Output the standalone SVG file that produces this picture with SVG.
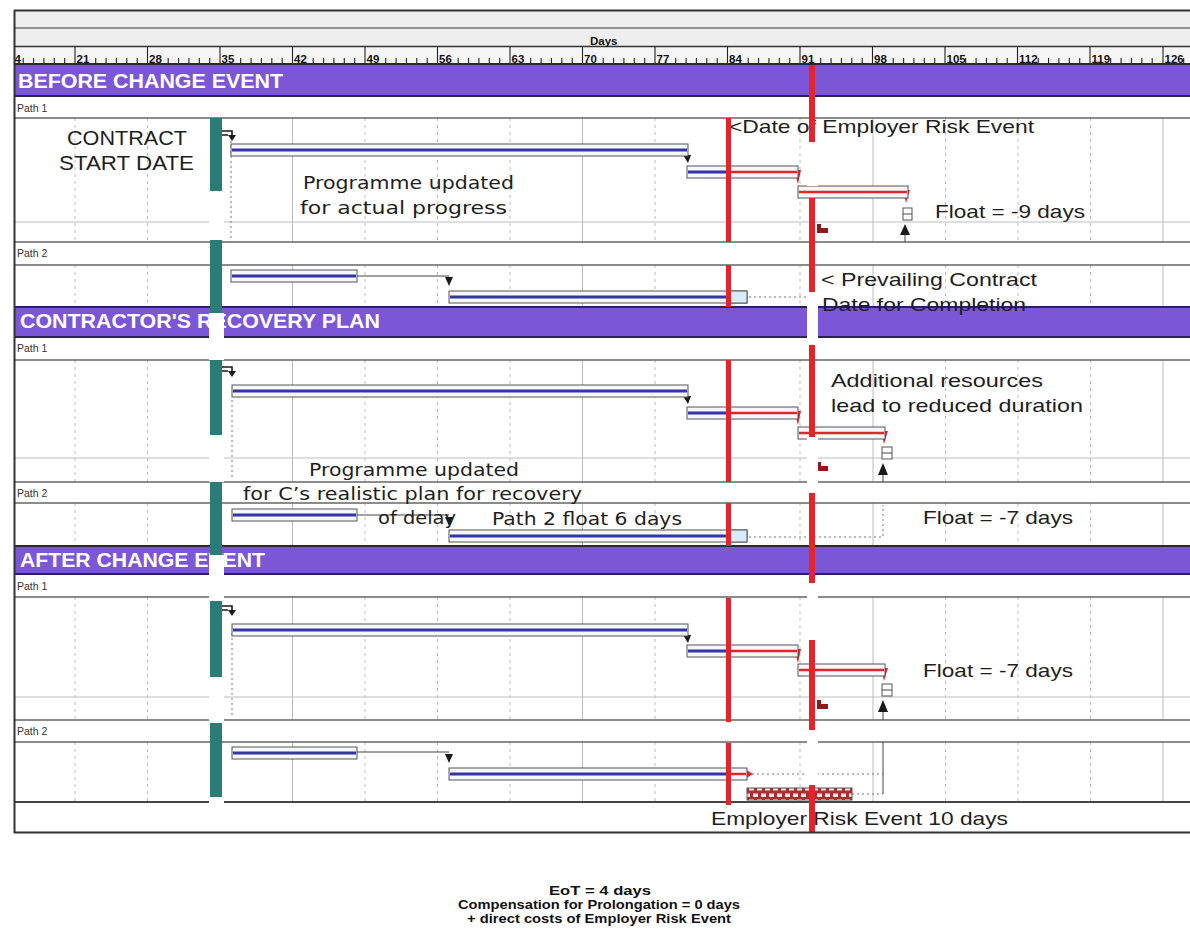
<svg xmlns="http://www.w3.org/2000/svg" xmlns:xlink="http://www.w3.org/1999/xlink" width="1190" height="932" viewBox="0 0 1190 932">
<style>
  .hdr{fill:#eeeeee}
  .scale-bg{fill:#f5f5f5}
  .hline{stroke:#333;fill:none}
  .scale-lbl{font-family:"Liberation Sans",Arial,sans-serif;font-size:11.5px;font-weight:bold;fill:#111}
  .tick{stroke:#222;stroke-width:1.1;fill:none}
  .band{fill:#7b57d8}
  .band-edge{stroke:#2a2350;stroke-width:2}
  .band-txt{font-family:"Liberation Sans",Arial,sans-serif;font-weight:bold;font-size:21px;fill:#ffffff}
  .path-lbl{font-family:"Liberation Sans",Arial,sans-serif;font-size:10.5px;fill:#333}
  .row{stroke:#666;stroke-width:1.3}
  .row-thick{stroke:#444;stroke-width:2}
  .subrow{stroke:#bdbdbd;stroke-width:1}
  .grid-d{stroke:#bcbcbc;stroke-width:1;stroke-dasharray:3 4;fill:none}
  .grid-s{stroke:#bcbcbc;stroke-width:1;fill:none}
  .bar{fill:#f6f7fd;stroke:#555;stroke-width:1}
  .bar-end{fill:#d7ecf6;stroke:#555;stroke-width:1}
  .prog{stroke:#3434a6;stroke-width:3}
  .crit{stroke:#e0262b;stroke-width:2.5}
  .link{stroke:#444;stroke-width:1;fill:none}
  .dot{stroke:#777;stroke-width:1;stroke-dasharray:2 3;fill:none}
  .arr{fill:#1a1a1a}
  .arr-red{fill:#e0262b}
  .ms{fill:#8e1b1b}
  .fbox{fill:#fff;stroke:#555;stroke-width:1}
  .note{font-family:"DejaVu Sans",Verdana,sans-serif;font-size:18px;fill:#1e1e1e}
  .note2{font-family:"Liberation Sans",Arial,sans-serif;font-size:19px;fill:#1e1e1e}
  .big{font-family:"Liberation Sans",Arial,sans-serif;font-size:21px;fill:#1e1e1e}
  .teal{fill:#2b7c77}
  .red{fill:#e3242b}
  .strip{fill:#ffffff}
  .foot{font-family:"Liberation Sans",Arial,sans-serif;font-weight:bold;font-size:13px;fill:#111}
</style>
<defs>
  <clipPath id="chartClip"><rect x="15" y="0" width="1175" height="932"/></clipPath>
  <!-- one week of the time scale: major tick + five day ticks -->
  <path id="wk" class="tick" d="M0 46V64M20.7 58V64M31.1 58V64M41.4 58V64M51.8 58V64M62.2 58V64"/>
  <!-- vertical grid column through the task areas -->
  <path id="gcol" d="M0 118V242M0 265V307M0 360V482M0 503V546M0 597V720M0 742V802"/>
  <!-- start link glyph from the contract start milestone -->
  <g id="startArrow">
    <path d="M0 1H10V7M0 5H6" stroke="#1a1a1a" stroke-width="1.6" fill="none"/>
    <polygon points="6,5 14,5 10,11" fill="#1a1a1a"/>
  </g>
  <!-- small dark red milestone mark -->
  <path id="msMark" class="ms" d="M0 0h4v4h7v5h-11z"/>
  <!-- brick pattern of the risk event bar -->
  <pattern id="hatch" width="8" height="12" patternUnits="userSpaceOnUse">
    <rect width="8" height="12" fill="#a83030"/>
    <rect x="1" y="1.5" width="5" height="3.5" fill="#f4e4e4"/>
    <rect x="5" y="7" width="5" height="3.5" fill="#f4e4e4"/>
    <rect x="-3" y="7" width="5" height="3.5" fill="#f4e4e4"/>
  </pattern>
</defs>

<rect width="1190" height="932" fill="#ffffff"/>

<!-- header and time scale -->
<g id="timescale">
  <rect class="hdr" x="14" y="10" width="1176" height="36"/>
  <rect class="scale-bg" x="14" y="46" width="1176" height="18"/>
  <path class="hline" stroke-width="2" d="M14 10.5H1190"/>
  <path class="hline" stroke-width="1" d="M14 28H1190"/>
  <path class="hline" stroke-width="1.5" d="M14 46.5H1190"/>
  <text class="scale-lbl" x="590" y="44.5" font-size="11">Days</text>
  <g clip-path="url(#chartClip)">
    <use xlink:href="#wk" x="2.5"/><use xlink:href="#wk" x="75"/><use xlink:href="#wk" x="147.5"/>
    <use xlink:href="#wk" x="220"/><use xlink:href="#wk" x="292.5"/><use xlink:href="#wk" x="365"/>
    <use xlink:href="#wk" x="437.5"/><use xlink:href="#wk" x="510"/><use xlink:href="#wk" x="582.5"/>
    <use xlink:href="#wk" x="655"/><use xlink:href="#wk" x="727.5"/><use xlink:href="#wk" x="800"/>
    <use xlink:href="#wk" x="872.5"/><use xlink:href="#wk" x="945"/><use xlink:href="#wk" x="1017.5"/>
    <use xlink:href="#wk" x="1090"/><use xlink:href="#wk" x="1163"/>
    <text class="scale-lbl" x="8" y="62.5">14</text>
    <text class="scale-lbl" x="76.5" y="62.5">21</text>
    <text class="scale-lbl" x="149" y="62.5">28</text>
    <text class="scale-lbl" x="221.5" y="62.5">35</text>
    <text class="scale-lbl" x="294" y="62.5">42</text>
    <text class="scale-lbl" x="366.5" y="62.5">49</text>
    <text class="scale-lbl" x="439" y="62.5">56</text>
    <text class="scale-lbl" x="511.5" y="62.5">63</text>
    <text class="scale-lbl" x="584" y="62.5">70</text>
    <text class="scale-lbl" x="656.5" y="62.5">77</text>
    <text class="scale-lbl" x="729" y="62.5">84</text>
    <text class="scale-lbl" x="801.5" y="62.5">91</text>
    <text class="scale-lbl" x="874" y="62.5">98</text>
    <text class="scale-lbl" x="946.5" y="62.5">105</text>
    <text class="scale-lbl" x="1019" y="62.5">112</text>
    <text class="scale-lbl" x="1091.5" y="62.5">119</text>
    <text class="scale-lbl" x="1164.5" y="62.5">126</text>
  </g>
</g>

<!-- grid -->
<g id="grid">
  <g class="grid-d">
    <use xlink:href="#gcol" x="75"/><use xlink:href="#gcol" x="147.5"/><use xlink:href="#gcol" x="220"/>
    <use xlink:href="#gcol" x="365"/><use xlink:href="#gcol" x="437.5"/><use xlink:href="#gcol" x="510"/>
    <use xlink:href="#gcol" x="655"/><use xlink:href="#gcol" x="727.5"/><use xlink:href="#gcol" x="800"/>
    <use xlink:href="#gcol" x="945.5"/><use xlink:href="#gcol" x="1018"/><use xlink:href="#gcol" x="1090.5"/>
  </g>
  <g class="grid-s">
    <use xlink:href="#gcol" x="292.5"/><use xlink:href="#gcol" x="582.5"/>
    <use xlink:href="#gcol" x="873"/><use xlink:href="#gcol" x="1163"/>
  </g>
</g>

<!-- row rules -->
<g id="rows">
  <path class="subrow" d="M14 222H1190M14 458H1190M14 697H1190"/>
  <path class="row" d="M14 118H1190M14 242H1190M14 265H1190M14 360H1190M14 482H1190M14 503H1190M14 597H1190M14 720H1190M14 742H1190"/>
  <path class="row-thick" d="M14 802H1190"/>
</g>

<!-- section bands -->
<g id="band-before">
  <rect class="band" x="14" y="64" width="1176" height="32"/>
  <path class="band-edge" d="M14 64H1190M14 96H1190"/>
  <text class="band-txt" x="18" y="88" textLength="265" lengthAdjust="spacingAndGlyphs">BEFORE CHANGE EVENT</text>
</g>
<g id="band-recovery">
  <rect class="band" x="14" y="307" width="1176" height="30"/>
  <path class="band-edge" d="M14 307H1190M14 337H1190"/>
  <text class="band-txt" x="20" y="328" textLength="360" lengthAdjust="spacingAndGlyphs">CONTRACTOR'S RECOVERY PLAN</text>
</g>
<g id="band-after">
  <rect class="band" x="14" y="546" width="1176" height="28"/>
  <path class="band-edge" d="M14 546H1190M14 574H1190"/>
  <text class="band-txt" x="20" y="567" textLength="245" lengthAdjust="spacingAndGlyphs">AFTER CHANGE EVENT</text>
</g>

<!-- path labels -->
<g id="path-labels" class="path-lbl">
  <text x="17" y="112">Path 1</text>
  <text x="17" y="257">Path 2</text>
  <text x="17" y="352">Path 1</text>
  <text x="17" y="497">Path 2</text>
  <text x="17" y="590">Path 1</text>
  <text x="17" y="735">Path 2</text>
</g>

<!-- connectors between activities -->
<g id="connectors">
  <!-- section 1 -->
  <path class="dot" d="M231 141V242"/>
  <path class="link" d="M357 276H449"/>
  <path class="dot" d="M749 297H808"/>
  <path class="link" d="M905 235V242"/>
  <!-- section 2 -->
  <path class="dot" d="M232 400V478"/>
  <path class="link" d="M357 515H449"/>
  <path class="dot" d="M749 537H883V505"/>
  <path class="link" d="M883 474V482"/>
  <!-- section 3 -->
  <path class="dot" d="M232 633V718"/>
  <path class="link" d="M357 752H449"/>
  <path class="dot" d="M752 774H883M852 794H883"/>
  <path class="link" d="M883 742V794M883 712V720"/>
  <!-- link arrowheads -->
  <polygon class="arr" points="683,155 691,155 688,163"/>
  <polygon class="arr" points="683,396 691,396 688,404"/>
  <polygon class="arr" points="683,635 691,635 688,643"/>
  <polygon class="arr" points="445,277 453,277 449,286"/>
  <polygon class="arr" points="445,517 453,517 449,526"/>
  <polygon class="arr" points="445,754 453,754 449,763"/>
  <polygon class="arr-red" points="794,170 801,170 798,184"/>
  <polygon class="arr-red" points="794,411 801,411 798,425"/>
  <polygon class="arr-red" points="794,649 801,649 798,663"/>
  <polygon class="arr-red" points="903,190 910,190 906,203"/>
  <polygon class="arr-red" points="881,431 888,431 884,444"/>
  <polygon class="arr-red" points="881,668 888,668 884,681"/>
  <polygon class="arr-red" points="745,769 753,774 745,779"/>
  <!-- float arrows -->
  <polygon class="arr" points="900,235 910,235 905,224"/>
  <polygon class="arr" points="878,475 888,475 883,463"/>
  <polygon class="arr" points="878,712 888,712 883,700"/>
</g>

<!-- activities, section 1 -->
<g id="s1-p1-a1"><rect class="bar" x="231" y="144" width="457" height="12"/><path class="prog" d="M232 150H687"/></g>
<g id="s1-p1-a2"><rect class="bar" x="687" y="166" width="111" height="12"/><path class="prog" d="M688 172H728"/><path class="crit" d="M730 172H797"/></g>
<g id="s1-p1-a3"><rect class="bar" x="798" y="186" width="110" height="12"/><path class="crit" d="M799 192H907"/></g>
<g id="s1-p2-a1"><rect class="bar" x="231" y="270" width="126" height="12"/><path class="prog" d="M232 276H356"/></g>
<g id="s1-p2-a2"><rect class="bar" x="449" y="291" width="298" height="12"/><rect class="bar-end" x="729" y="291" width="18" height="12"/><path class="prog" d="M450 297H728"/></g>

<!-- activities, section 2 -->
<g id="s2-p1-a1"><rect class="bar" x="232" y="385" width="456" height="12"/><path class="prog" d="M233 391H687"/></g>
<g id="s2-p1-a2"><rect class="bar" x="687" y="407" width="111" height="12"/><path class="prog" d="M688 413H728"/><path class="crit" d="M730 413H797"/></g>
<g id="s2-p1-a3"><rect class="bar" x="798" y="427" width="87" height="12"/><path class="crit" d="M799 433H884"/></g>
<g id="s2-p2-a1"><rect class="bar" x="232" y="509" width="125" height="12"/><path class="prog" d="M233 515H356"/></g>
<g id="s2-p2-a2"><rect class="bar" x="449" y="530" width="298" height="12"/><rect class="bar-end" x="729" y="530" width="18" height="12"/><path class="prog" d="M450 536H728"/></g>

<!-- activities, section 3 -->
<g id="s3-p1-a1"><rect class="bar" x="232" y="624" width="456" height="12"/><path class="prog" d="M233 630H687"/></g>
<g id="s3-p1-a2"><rect class="bar" x="687" y="645" width="111" height="12"/><path class="prog" d="M688 651H728"/><path class="crit" d="M730 651H797"/></g>
<g id="s3-p1-a3"><rect class="bar" x="798" y="664" width="87" height="12"/><path class="crit" d="M799 670H884"/></g>
<g id="s3-p2-a1"><rect class="bar" x="232" y="747" width="125" height="12"/><path class="prog" d="M233 753H356"/></g>
<g id="s3-p2-a2"><rect class="bar" x="449" y="768" width="298" height="12"/><path class="prog" d="M450 774H728"/><path class="crit" d="M730 774H746"/></g>
<g id="risk-event"><rect x="747" y="788" width="105" height="12" fill="url(#hatch)" stroke="#555" stroke-width="1"/></g>

<!-- milestones -->
<g id="milestones">
  <use xlink:href="#startArrow" x="222" y="130"/>
  <use xlink:href="#startArrow" x="222" y="366"/>
  <use xlink:href="#startArrow" x="222" y="605"/>
  <g id="finish-s1"><rect class="fbox" x="903" y="208" width="9" height="12"/><path class="link" d="M903 214H912"/></g>
  <g id="finish-s2"><rect class="fbox" x="882" y="447" width="10" height="12"/><path class="link" d="M882 453H892"/></g>
  <g id="finish-s3"><rect class="fbox" x="882" y="684" width="10" height="12"/><path class="link" d="M882 690H892"/></g>
  <use xlink:href="#msMark" x="817" y="224"/>
  <use xlink:href="#msMark" x="817" y="462"/>
  <use xlink:href="#msMark" x="817" y="700"/>
</g>

<!-- annotations -->
<g id="notes">
  <text class="big" x="67" y="145" textLength="120" lengthAdjust="spacingAndGlyphs">CONTRACT</text>
  <text class="big" x="59" y="170" textLength="135" lengthAdjust="spacingAndGlyphs">START DATE</text>
  <text class="note" x="303" y="189" textLength="211" lengthAdjust="spacingAndGlyphs">Programme updated</text>
  <text class="note" x="300" y="214" textLength="207" lengthAdjust="spacingAndGlyphs">for actual progress</text>
  <text class="note2" x="729" y="133" textLength="305" lengthAdjust="spacingAndGlyphs">&lt;Date of Employer Risk Event</text>
  <text class="note2" x="935" y="218" textLength="150" lengthAdjust="spacingAndGlyphs">Float = -9 days</text>
  <text class="note2" x="821" y="286" textLength="216" lengthAdjust="spacingAndGlyphs">&lt; Prevailing Contract</text>
  <text class="note2" x="822" y="311" textLength="204" lengthAdjust="spacingAndGlyphs">Date for Completion</text>
  <text class="note2" x="831" y="387" textLength="212" lengthAdjust="spacingAndGlyphs">Additional resources</text>
  <text class="note2" x="831" y="412" textLength="252" lengthAdjust="spacingAndGlyphs">lead to reduced duration</text>
  <text class="note" x="309" y="476" textLength="210" lengthAdjust="spacingAndGlyphs">Programme updated</text>
  <text class="note" x="243" y="500" textLength="339" lengthAdjust="spacingAndGlyphs">for C’s realistic plan for recovery</text>
  <text class="note" x="378" y="524" textLength="78" lengthAdjust="spacingAndGlyphs">of delay</text>
  <text class="note" x="492" y="525" textLength="190" lengthAdjust="spacingAndGlyphs">Path 2 float 6 days</text>
  <text class="note2" x="923" y="524" textLength="150" lengthAdjust="spacingAndGlyphs">Float = -7 days</text>
  <text class="note2" x="923" y="677" textLength="150" lengthAdjust="spacingAndGlyphs">Float = -7 days</text>
  <text class="note2" x="711" y="825" textLength="297" lengthAdjust="spacingAndGlyphs">Employer Risk Event 10 days</text>
</g>

<!-- cleared columns -->
<g id="strips" class="strip">
  <rect x="209" y="191" width="15" height="49"/>
  <rect x="209" y="313" width="15" height="47"/>
  <rect x="209" y="435" width="15" height="47"/>
  <rect x="209" y="555" width="15" height="46"/>
  <rect x="209" y="677" width="15" height="46"/>
  <rect x="209" y="797" width="15" height="33"/>
  <rect x="807" y="142" width="11" height="44"/>
  <rect x="807" y="292" width="11" height="53"/>
  <rect x="807" y="437" width="11" height="56"/>
  <rect x="807" y="583" width="11" height="57"/>
  <rect x="807" y="730" width="11" height="55"/>
</g>

<!-- contract start date -->
<g id="start-date" class="teal">
  <rect x="210" y="118" width="12" height="73"/>
  <rect x="210" y="240" width="12" height="73"/>
  <rect x="210" y="360" width="12" height="75"/>
  <rect x="210" y="482" width="12" height="73"/>
  <rect x="210" y="601" width="12" height="76"/>
  <rect x="210" y="723" width="12" height="74"/>
</g>

<!-- date of employer risk event -->
<g id="risk-date" class="red">
  <rect x="726" y="118" width="5" height="124"/>
  <rect x="726" y="265" width="5" height="42"/>
  <rect x="726" y="360" width="5" height="122"/>
  <rect x="726" y="503" width="5" height="43"/>
  <rect x="726" y="598" width="5" height="124"/>
  <rect x="726" y="743" width="5" height="62"/>
</g>

<!-- prevailing contract date for completion -->
<g id="completion-date" class="red">
  <rect x="809" y="65" width="6" height="77"/>
  <rect x="809" y="198" width="6" height="94"/>
  <rect x="809" y="345" width="6" height="92"/>
  <rect x="809" y="493" width="6" height="90"/>
  <rect x="809" y="640" width="6" height="90"/>
  <rect x="809" y="785" width="6" height="48"/>
</g>

<!-- frame -->
<path id="frame" d="M14.5 10V832.5H1190" fill="none" stroke="#333" stroke-width="2"/>

<!-- summary -->
<g id="summary" class="foot">
  <text x="549" y="895" textLength="102" lengthAdjust="spacingAndGlyphs">EoT =  4  days</text>
  <text x="458" y="909" textLength="282" lengthAdjust="spacingAndGlyphs">Compensation for Prolongation = 0 days</text>
  <text x="467" y="923" textLength="264" lengthAdjust="spacingAndGlyphs">+ direct costs of Employer Risk Event</text>
</g>
</svg>
